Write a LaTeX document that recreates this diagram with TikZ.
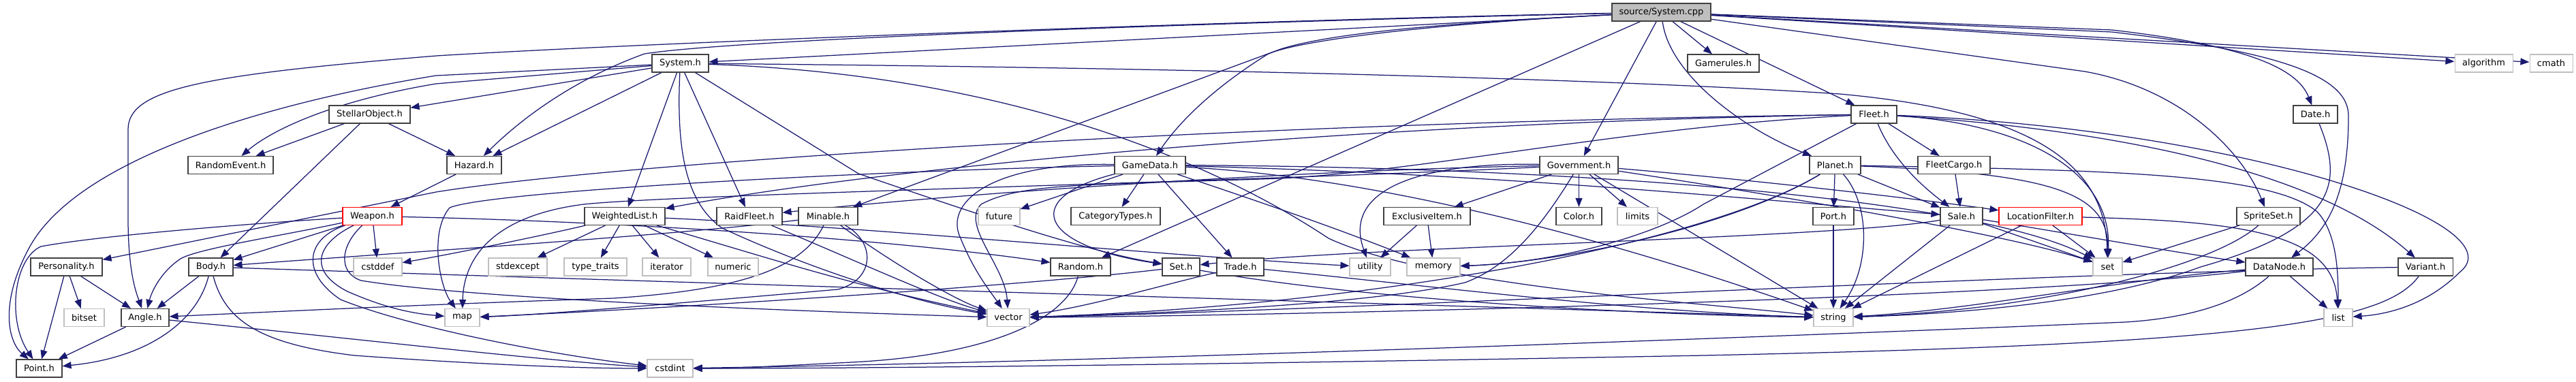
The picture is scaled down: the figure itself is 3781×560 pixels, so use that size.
\documentclass[tikz,border=0pt]{standalone}
\usepackage{fontspec}
\setmainfont{DejaVu Sans}
\usetikzlibrary{arrows.meta}
\definecolor{edgec}{HTML}{191970}
\definecolor{nodeb}{HTML}{404040}
\definecolor{greyb}{HTML}{BFBFBF}
\pgfdeclarelayer{bg}
\pgfsetlayers{bg,main}
\tikzset{
 hdr/.style={draw=nodeb, fill=white, line width=1.1pt, minimum height=26pt, inner sep=0pt, font=\fontsize{13}{15}\selectfont},
 sys/.style={hdr, draw=greyb},
 trunc/.style={hdr, draw=red},
 e/.style={draw=edgec, line width=1.25pt, -{Triangle[length=13pt,width=10pt]}},
}
\begin{document}
\begin{tikzpicture}[x=1pt,y=-1pt]
\path[use as bounding box] (0,0) rectangle (3781,560);
% row 0
\node[hdr, fill=greyb, minimum width=145pt] (cpp) at (2438.5,18) {source/System.cpp};
% row 1
\node[hdr, minimum width=83pt] (systemh) at (998.5,93) {System.h};
\node[hdr, minimum width=105pt] (gamerules) at (2529.5,93) {Gamerules.h};
\node[sys, minimum width=85pt] (algorithm) at (3645.5,93) {algorithm};
\node[sys, minimum width=63pt] (cmath) at (3744.5,93) {cmath};
% row 2
\node[hdr, minimum width=119pt] (stellar) at (542.5,168) {StellarObject.h};
\node[hdr, minimum width=67pt] (fleet) at (2750.5,168) {Fleet.h};
\node[hdr, minimum width=65pt] (date) at (3398.5,168) {Date.h};
% row 3
\node[hdr, minimum width=125pt] (randomevent) at (338.5,242.5) {RandomEvent.h};
\node[hdr, minimum width=80pt] (hazard) at (696,242.5) {Hazard.h};
\node[hdr, minimum width=104pt] (gamedata) at (1688,242.5) {GameData.h};
\node[hdr, minimum width=115pt] (government) at (2317.5,242.5) {Government.h};
\node[hdr, minimum width=75pt] (planet) at (2693.5,242.5) {Planet.h};
\node[hdr, minimum width=106pt] (fleetcargo) at (2868,242.5) {FleetCargo.h};
% row 4
\node[trunc, minimum width=87pt] (weapon) at (546.5,317.5) {Weapon.h};
\node[hdr, minimum width=118pt] (weighted) at (917,317.5) {WeightedList.h};
\node[hdr, minimum width=96pt] (raidfleet) at (1100,317.5) {RaidFleet.h};
\node[hdr, minimum width=87pt] (minable) at (1215.5,317.5) {Minable.h};
\node[sys, minimum width=61pt] (future) at (1466.5,317.5) {future};
\node[hdr, minimum width=131pt] (categorytypes) at (1637.5,317.5) {CategoryTypes.h};
\node[hdr, minimum width=127pt] (exclusive) at (2094.5,317.5) {ExclusiveItem.h};
\node[hdr, minimum width=67pt] (color) at (2317.5,317.5) {Color.h};
\node[sys, minimum width=59pt] (limits) at (2403.5,317.5) {limits};
\node[hdr, minimum width=60pt] (port) at (2691,317.5) {Port.h};
\node[hdr, minimum width=62pt] (sale) at (2879,317.5) {Sale.h};
\node[trunc, minimum width=122pt] (locfilter) at (2995,317.5) {LocationFilter.h};
\node[hdr, minimum width=93pt] (spriteset) at (3329.5,317.5) {SpriteSet.h};
% row 5
\node[hdr, minimum width=105pt] (personality) at (97.5,392) {Personality.h};
\node[hdr, minimum width=65pt] (body) at (309.5,392) {Body.h};
\node[sys, minimum width=71pt] (cstddef) at (554.5,392) {cstddef};
\node[sys, minimum width=86pt] (stdexcept) at (760,392) {stdexcept};
\node[sys, minimum width=92pt] (typetraits) at (874,392) {type\_traits};
\node[sys, minimum width=71pt] (iterator) at (978.5,392) {iterator};
\node[sys, minimum width=74pt] (numeric) at (1076,392) {numeric};
\node[hdr, minimum width=88pt] (random) at (1586,392) {Random.h};
\node[hdr, minimum width=55pt] (seth) at (1733.5,392) {Set.h};
\node[hdr, minimum width=69pt] (trade) at (1820.5,392) {Trade.h};
\node[sys, minimum width=60pt] (utility) at (2011,392) {utility};
\node[sys, minimum width=78pt] (memory) at (2104,392) {memory};
\node[sys, minimum width=43pt] (setstd) at (3093.5,392) {set};
\node[hdr, minimum width=99pt] (datanode) at (3345.5,392) {DataNode.h};
\node[hdr, minimum width=80pt] (variant) at (3560,392) {Variant.h};
% row 6
\node[sys, minimum width=59pt] (bitset) at (123.5,466.5) {bitset};
\node[hdr, minimum width=70pt] (angle) at (213,466.5) {Angle.h};
\node[sys, minimum width=51pt] (map) at (678.5,466.5) {map};
\node[sys, minimum width=62pt] (vector) at (1480,466.5) {vector};
\node[sys, minimum width=58pt] (string) at (2691,466.5) {string};
\node[sys, minimum width=42pt] (list) at (3432,466.5) {list};
% row 7
\node[hdr, minimum width=67pt] (point) at (57.5,541) {Point.h};
\node[sys, minimum width=67pt] (cstdint) at (983.5,541) {cstdint};

\begin{pgfonlayer}{bg}
\fill[white] (0,0) rectangle (3781,560);
% source/System.cpp
\draw[e] (cpp) -- (systemh);
\draw[e] (cpp) .. controls (1900,28) and (1000,60) .. (640,82) .. controls (300,110) and (188,130) .. (188,190) -- (188,320) .. controls (188,400) and (200,430) .. (angle);
\draw[e] (cpp) .. controls (1900,30) and (1100,55) .. (946,79) .. controls (860,110) and (780,160) .. (hazard);
\draw[e] (cpp) .. controls (2100,35) and (1900,60) .. (1860,80) .. controls (1780,130) and (1730,180) .. (gamedata);
\draw[e] (cpp) .. controls (2100,35) and (1950,50) .. (1880,72) -- (minable);
\draw[e] (cpp) -- (random);
\draw[e] (cpp) -- (government);
\draw[e] (cpp) .. controls (2450,110) and (2560,190) .. (planet);
\draw[e] (cpp) -- (gamerules);
\draw[e] (cpp) -- (fleet);
\draw[e] (cpp) -- (3060,105) .. controls (3200,130) and (3290,220) .. (spriteset);
\draw[e] (cpp) -- (3100,44) .. controls (3280,65) and (3370,95) .. (date);
\draw[e] (cpp) -- (3100,47) .. controls (3340,75) and (3447,110) .. (3447,170) .. controls (3447,280) and (3420,335) .. (datanode);
\draw[e] (cpp) -- (algorithm);
\draw[e] (cpp) -- (cmath);
% System.h
\draw[e] (systemh) -- (hazard);
\draw[e] (systemh) -- (640,123) .. controls (490,148) and (400,190) .. (randomevent);
\draw[e] (systemh) -- (stellar);
\draw[e] (systemh) -- (640,111) .. controls (400,150) and (120,230) .. (45,360) .. controls (0,440) and (10,500) .. (point);
\draw[e] (systemh) -- (weighted);
\draw[e] (systemh) -- (raidfleet);
\draw[e] (systemh) .. controls (992,230) and (1010,300) .. (1060,335) .. controls (1200,400) and (1350,445) .. (vector);
\draw[e] (systemh) -- (1260,255) .. controls (1450,320) and (1600,370) .. (seth);
\draw[e] (systemh) .. controls (1500,110) and (1800,250) .. (1950,350) .. controls (2100,420) and (2500,445) .. (string);
\draw[e] (systemh) .. controls (1800,100) and (2400,118) .. (2700,138) .. controls (3000,165) and (3090,250) .. (setstd);
% StellarObject.h
\draw[e] (stellar) -- (randomevent);
\draw[e] (stellar) -- (body);
\draw[e] (stellar) -- (hazard);
% Hazard.h
\draw[e] (hazard) -- (weapon);
% Weapon.h
\draw[e] (weapon) .. controls (400,326) and (150,345) .. (60,362) .. controls (20,380) and (10,470) .. (point);
\draw[e] (weapon) .. controls (420,345) and (290,365) .. (265,380) .. controls (235,400) and (222,430) .. (angle);
\draw[e] (weapon) -- (body);
\draw[e] (weapon) -- (cstddef);
\draw[e] (weapon) .. controls (450,350) and (440,400) .. (500,440) .. controls (600,480) and (800,520) .. (cstdint);
\draw[e] (weapon) .. controls (460,360) and (455,400) .. (510,428) .. controls (560,450) and (600,460) .. (map);
\draw[e] (weapon) .. controls (500,360) and (495,400) .. (530,412) .. controls (700,440) and (1200,458) .. (vector);
\draw[e] (weapon) .. controls (900,325) and (1300,350) .. (random);
% Personality.h
\draw[e] (personality) -- (bitset);
\draw[e] (personality) -- (point);
\draw[e] (personality) -- (angle);
% Body.h
\draw[e] (body) -- (angle);
\draw[e] (body) .. controls (290,470) and (220,525) .. (point);
\draw[e] (body) .. controls (330,470) and (380,505) .. (520,522) .. controls (700,535) and (850,541) .. (cstdint);
\draw[e] (body) .. controls (1000,415) and (2000,445) .. (string);
% Angle.h
\draw[e] (angle) -- (point);
\draw[e] (angle) .. controls (500,495) and (800,530) .. (cstdint);
% WeightedList.h
\draw[e] (weighted) .. controls (800,345) and (680,370) .. (cstddef);
\draw[e] (weighted) -- (stdexcept);
\draw[e] (weighted) -- (typetraits);
\draw[e] (weighted) -- (iterator);
\draw[e] (weighted) -- (numeric);
\draw[e] (weighted) .. controls (1300,335) and (1700,375) .. (utility);
\draw[e] (weighted) .. controls (1100,370) and (1250,420) .. (vector);
% RaidFleet.h
\draw[e] (raidfleet) .. controls (1250,380) and (1380,440) .. (vector);
% Minable.h
\draw[e] (minable) .. controls (1000,345) and (600,370) .. (body);
\draw[e] (minable) .. controls (1180,390) and (1100,425) .. (900,438) .. controls (600,448) and (400,458) .. (angle);
\draw[e] (minable) .. controls (1285,355) and (1285,410) .. (1230,425) .. controls (1000,445) and (800,462) .. (map);
\draw[e] (minable) .. controls (1300,380) and (1400,440) .. (vector);
% GameData.h
\draw[e] (gamedata) -- (future);
\draw[e] (gamedata) -- (categorytypes);
\draw[e] (gamedata) .. controls (1500,290) and (1520,360) .. (seth);
\draw[e] (gamedata) -- (trade);
\draw[e] (gamedata) .. controls (1450,238) and (1385,300) .. (1410,350) .. controls (1430,400) and (1455,430) .. (vector);
\draw[e] (gamedata) .. controls (1300,250) and (720,280) .. (660,305) .. controls (630,340) and (645,420) .. (map);
\draw[e] (gamedata) .. controls (1800,280) and (1950,330) .. (memory);
\draw[e] (gamedata) .. controls (2100,265) and (2500,400) .. (string);
\draw[e] (gamedata) .. controls (2300,245) and (2900,290) .. (setstd);
\draw[e] (gamedata) .. controls (2200,255) and (2600,295) .. (sale);
% Government.h
\draw[e] (government) -- (exclusive);
\draw[e] (government) -- (color);
\draw[e] (government) -- (limits);
\draw[e] (government) .. controls (1900,250) and (1400,285) .. (raidfleet);
\draw[e] (government) .. controls (2080,238) and (1970,280) .. (utility);
\draw[e] (government) .. controls (2270,320) and (2220,390) .. (2150,415) .. controls (2000,450) and (1650,462) .. (vector);
\draw[e] (government) -- (string);
\draw[e] (government) .. controls (2550,262) and (2800,290) .. (locfilter);
\draw[e] (government) .. controls (2600,285) and (2950,345) .. (setstd);
\draw[e] (government) .. controls (1800,268) and (1000,285) .. (857,300) .. controls (700,320) and (680,400) .. (map);
% ExclusiveItem.h
\draw[e] (exclusive) -- (utility);
\draw[e] (exclusive) -- (memory);
% Planet.h
\draw[e] (planet) -- (port);
\draw[e] (planet) .. controls (2745,300) and (2745,390) .. (string);
\draw[e] (planet) -- (sale);
\draw[e] (planet) .. controls (2550,330) and (2300,385) .. (memory);
\draw[e] (planet) .. controls (2500,360) and (2000,450) .. (vector);
\draw[e] (planet) .. controls (3020,255) and (3095,285) .. (setstd);
\draw[e] (planet) .. controls (3100,250) and (3330,255) .. (3400,310) .. controls (3430,340) and (3432,400) .. (list);
% Fleet.h
\draw[e] (fleet) .. controls (1800,180) and (900,240) .. (640,282) -- (personality);
\draw[e] (fleet) .. controls (2000,180) and (1300,245) .. (weighted);
\draw[e] (fleet) -- (fleetcargo);
\draw[e] (fleet) .. controls (2780,240) and (2830,280) .. (sale);
\draw[e] (fleet) -- (2500,300) .. controls (2440,340) and (2300,385) .. (memory);
\draw[e] (fleet) .. controls (2400,185) and (2100,250) .. (1880,262) .. controls (1600,272) and (1500,268) .. (1440,300) .. controls (1410,330) and (1475,390) .. (vector);
\draw[e] (fleet) .. controls (2950,180) and (3100,240) .. (setstd);
\draw[e] (fleet) .. controls (3300,190) and (3700,330) .. (3610,400) .. controls (3560,450) and (3500,462) .. (list);
\draw[e] (fleet) .. controls (3100,190) and (3400,250) .. (variant);
% FleetCargo.h
\draw[e] (fleetcargo) -- (sale);
% Sale.h
\draw[e] (sale) -- (string);
\draw[e] (sale) -- (setstd);
\draw[e] (sale) .. controls (3050,345) and (3200,372) .. (datanode);
\draw[e] (sale) .. controls (2700,350) and (2000,362) .. (seth);
% LocationFilter.h
\draw[e] (locfilter) -- (setstd);
\draw[e] (locfilter) -- (string);
\draw[e] (locfilter) .. controls (3300,325) and (3425,345) .. (list);
% Port.h
\draw[e] (port) -- (string);
% SpriteSet.h
\draw[e] (spriteset) -- (setstd);
\draw[e] (spriteset) .. controls (3250,390) and (3000,455) .. (string);
% DataNode.h
\draw[e] (datanode) -- (list);
\draw[e] (datanode) .. controls (3100,412) and (2900,455) .. (string);
\draw[e] (datanode) .. controls (3000,435) and (2000,462) .. (vector);
\draw[e] (datanode) .. controls (3280,450) and (3200,468) .. (3120,473) .. controls (2600,495) and (1600,532) .. (cstdint);
% Variant.h
\draw[e] (variant) .. controls (3500,475) and (3300,505) .. (2500,522) .. controls (1800,535) and (1300,541) .. (cstdint);
\draw[e] (variant) .. controls (3000,400) and (2000,455) .. (vector);
% Date.h
\draw[e] (date) .. controls (3440,270) and (3430,335) .. (3230,392) .. controls (3100,440) and (2900,460) .. (string);
% Random.h
\draw[e] (random) .. controls (1565,470) and (1450,522) .. (1250,532) .. controls (1150,537) and (1080,541) .. (cstdint);
% Set.h
\draw[e] (seth) .. controls (1500,420) and (1000,452) .. (map);
\draw[e] (seth) .. controls (2000,440) and (2400,462) .. (string);
% Trade.h
\draw[e] (trade) .. controls (1700,420) and (1600,450) .. (vector);
\draw[e] (trade) .. controls (2100,420) and (2400,458) .. (string);
\end{pgfonlayer}
\end{tikzpicture}
\end{document}
